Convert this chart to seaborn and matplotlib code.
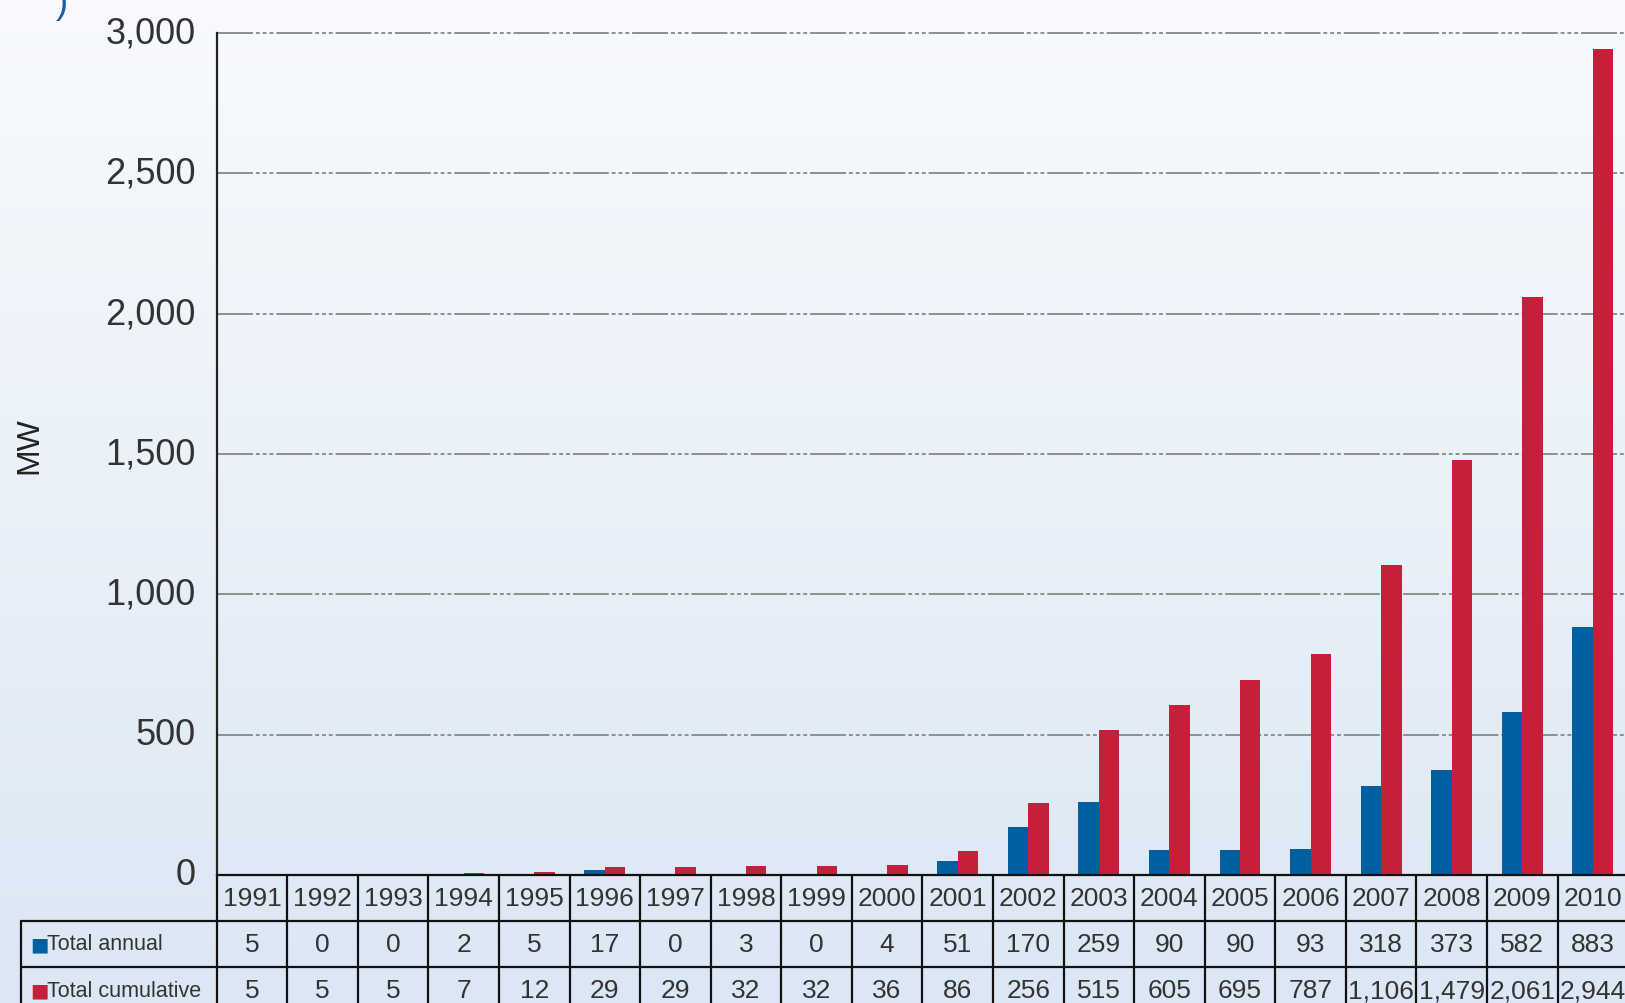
import matplotlib
matplotlib.use("Agg")
import matplotlib.pyplot as plt
from matplotlib import transforms
from matplotlib.colors import LinearSegmentedColormap
import numpy as np
import pandas as pd
import seaborn as sns

# Data
YEARS = ["1991", "1992", "1993", "1994", "1995", "1996", "1997", "1998", "1999", "2000",
         "2001", "2002", "2003", "2004", "2005", "2006", "2007", "2008", "2009", "2010"]
ANNUAL = [5, 0, 0, 2, 5, 17, 0, 3, 0, 4, 51, 170, 259, 90, 90, 93, 318, 373, 582, 883]
CUMULATIVE = [5, 5, 5, 7, 12, 29, 29, 32, 32, 36, 86, 256, 515, 605, 695, 787,
              1106, 1479, 2061, 2944]
SERIES = ["Total annual", "Total cumulative"]
Y_TICKS = [0, 500, 1000, 1500, 2000, 2500, 3000]

BLUE = "#0060a0"
RED = "#c61f3c"
TEXT = "#333333"

sns.set_theme(style="white")
plt.rcParams["font.family"] = ["Liberation Sans", "DejaVu Sans"]

df = pd.DataFrame({
    "year": YEARS * 2,
    "MW": ANNUAL + CUMULATIVE,
    "series": [SERIES[0]] * len(YEARS) + [SERIES[1]] * len(YEARS),
})

fig = plt.figure(figsize=(16.25, 10.04), dpi=100)

# vertical background gradient
bg = fig.add_axes([0, 0, 1, 1], zorder=-1)
cmap = LinearSegmentedColormap.from_list("bg", ["#f8fafd", "#dbe7f4"])
bg.imshow(np.linspace(0, 1, 256).reshape(-1, 1), aspect="auto", cmap=cmap,
          extent=[0, 1, 0, 1], origin="upper")
bg.axis("off")

ax = fig.add_axes([0.1333, 0.1275, 0.8667, 0.8386])
ax.patch.set_alpha(0)

sns.barplot(data=df, x="year", y="MW", hue="series", order=YEARS, hue_order=SERIES,
            palette=[BLUE, RED], width=0.58, saturation=1, legend=False,
            linewidth=0, ax=ax)

ax.set_ylim(0, 3000)
ax.set_xlim(-0.5, 19.455)
ax.set_yticks(Y_TICKS)
ax.set_yticklabels([f"{t:,}" for t in Y_TICKS])
ax.tick_params(axis="y", left=False, labelsize=26, labelcolor=TEXT, pad=9)
ax.tick_params(axis="x", bottom=False, labelbottom=False)
# labels sit a touch above their grid lines in the original
lift = transforms.ScaledTranslation(0, 3 / 72, fig.dpi_scale_trans)
for lab in ax.get_yticklabels():
    lab.set_transform(lab.get_transform() + lift)
ax.set_xlabel("")
ax.set_ylabel("")
for t in Y_TICKS[1:]:
    ax.axhline(t, color="#8f8f8f", lw=1.4, zorder=0.5, clip_on=False,
               dashes=(18.5, 1.5, 2, 1.5, 2, 1.5, 2, 1.5))
for side in ["top", "right"]:
    ax.spines[side].set_visible(False)
ax.spines["left"].set_color("#222222")
ax.spines["left"].set_linewidth(1.6)
ax.spines["bottom"].set_color("#111111")
ax.spines["bottom"].set_linewidth(1.6)

fig.text(29 / 1625, 1 - 446 / 1004, "MW", rotation=90, ha="center", va="center",
         fontsize=23, color="#222222")
fig.text(62 / 1625, 0.997, ")", ha="center", va="center", fontsize=26, color="#1f5ca6")

# data table under the axis
trans = ax.get_xaxis_transform()
rows = [0, -0.0546, -0.1093, -0.1639]
label_left = -0.5 - (216.6 - 21) / 70.58
line_kw = dict(color="#111111", lw=1.6, transform=trans, clip_on=False)
n = len(YEARS)
for i in range(n + 1):
    ax.plot([i - 0.5, i - 0.5], [rows[0], rows[3]], **line_kw)
for r in rows[1:]:
    ax.plot([label_left, n - 0.5], [r, r], **line_kw)
ax.plot([label_left, label_left], [rows[1], rows[3]], **line_kw)

cell_kw = dict(transform=trans, ha="center", va="center", fontsize=19,
               color=TEXT, clip_on=False)
for i, year in enumerate(YEARS):
    ax.text(i, (rows[0] + rows[1]) / 2, year, **cell_kw)
    ax.text(i, (rows[1] + rows[2]) / 2, f"{ANNUAL[i]:,}", **cell_kw)
    ax.text(i, (rows[2] + rows[3]) / 2, f"{CUMULATIVE[i]:,}", **cell_kw)

for k, (name, colour) in enumerate(zip(SERIES, [BLUE, RED])):
    yc = (rows[k + 1] + rows[k + 2]) / 2
    ax.text(label_left + 0.13, yc, "\u25a0", transform=trans, ha="left", va="center",
            fontsize=14, color=colour, family="DejaVu Sans", clip_on=False)
    ax.text(label_left + 0.37, yc, name, transform=trans, ha="left", va="center",
            fontsize=15.5, color=TEXT, clip_on=False)

fig.savefig("out.png", dpi=100)
